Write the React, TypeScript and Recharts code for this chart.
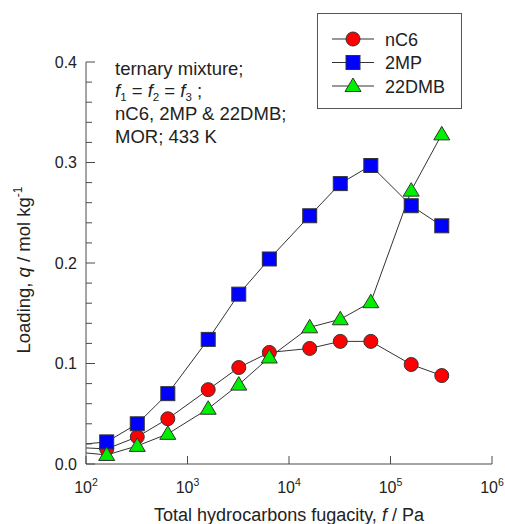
import React from 'react'
import { LineChart, Line, XAxis, YAxis, Legend } from 'recharts'

// total hydrocarbons fugacity, Pa (first entry is the line lead-in at the axis, no marker)
const fugacity = [100, 160, 320, 640, 1600, 3200, 6400, 16000, 32000, 64000, 160000, 320000]
const nC6 = [0.016, 0.015, 0.027, 0.045, 0.074, 0.096, 0.111, 0.115, 0.122, 0.122, 0.099, 0.088]
const mp2 = [0.020, 0.022, 0.040, 0.070, 0.124, 0.169, 0.204, 0.247, 0.279, 0.297, 0.257, 0.237]
const dmb22 = [0.011, 0.009, 0.018, 0.030, 0.055, 0.079, 0.106, 0.136, 0.144, 0.161, 0.272, 0.328]

const xTicks = [100, 1000, 10000, 100000, 1000000]
const xExp = ['2', '3', '4', '5', '6']
const yTicks = [0, 0.02, 0.04, 0.06, 0.08, 0.1, 0.12, 0.14, 0.16, 0.18, 0.2, 0.22, 0.24, 0.26, 0.28, 0.3, 0.32, 0.34, 0.36, 0.38, 0.4]

const data = fugacity.map((f, i) => ({ f, nC6: nC6[i], mp2: mp2[i], dmb22: dmb22[i] }))

const FONT = '"Liberation Sans", Arial, Helvetica, sans-serif'
const AXIS = '#4a4a4a'
const EDGE = '#333'

const XTick = (props: any) => {
  const { x, y, payload } = props
  const i = xTicks.indexOf(payload.value)
  return (
    <g>
      <line x1={x} x2={x} y1={y} y2={y - 8} stroke={AXIS} />
      <text x={x} y={y + 29} textAnchor="middle" fontSize={16} fill="#222" fontFamily={FONT}>
        10<tspan dy={-7} fontSize={10.5}>{xExp[i]}</tspan>
      </text>
    </g>
  )
}

const YTick = (props: any) => {
  const { x, y, payload } = props
  const v = payload.value
  const major = Math.abs(v * 10 - Math.round(v * 10)) < 1e-6
  return (
    <g>
      <line x1={x} x2={x + (major ? 9 : 6)} y1={y} y2={y} stroke={AXIS} />
      {major && (
        <text x={x - 9} y={y + 5.5} textAnchor="end" fontSize={16} fill="#222" fontFamily={FONT}>
          {v.toFixed(1)}
        </text>
      )}
    </g>
  )
}

const marker = (kind: string, color: string, cx: number, cy: number, key?: any) => {
  if (kind === 'circle') return <circle key={key} cx={cx} cy={cy} r={7} fill={color} stroke={EDGE} />
  if (kind === 'square') return <rect key={key} x={cx - 7} y={cy - 7} width={14} height={14} fill={color} stroke={EDGE} />
  return (
    <polygon
      key={key}
      points={`${cx},${cy - 8} ${cx - 8},${cy + 5.5} ${cx + 8},${cy + 5.5}`}
      fill={color}
      stroke={EDGE}
    />
  )
}

const dotFor = (kind: string, color: string) => (props: any) => {
  const { cx, cy, index } = props
  if (index === 0 || cx == null) return <g key={`${kind}-${index}`} />
  return marker(kind, color, cx, cy, `${kind}-${index}`)
}

const series = [
  { key: 'nC6', name: 'nC6', kind: 'circle', color: '#ff0000' },
  { key: 'mp2', name: '2MP', kind: 'square', color: '#0000ff' },
  { key: 'dmb22', name: '22DMB', kind: 'triangle', color: '#00ee00' },
]

const LegendBox = () => (
  <svg width={145} height={96} style={{ display: 'block' }}>
    <rect x={0.5} y={0.5} width={144} height={95} fill="#fff" stroke="#555" />
    {series.map((s, i) => {
      const cy = 26 + i * 23.5
      return (
        <g key={s.key}>
          <line x1={15} x2={57} y1={cy} y2={cy} stroke={EDGE} />
          {marker(s.kind, s.color, 36, cy)}
          <text x={68} y={cy + 6.5} fontSize={18} fill="#222" fontFamily={FONT}>{s.name}</text>
        </g>
      )
    })}
  </svg>
)

const sub = { fontSize: 11.5 }

export default function App() {
  return (
    <div style={{ position: 'absolute', left: 0, top: 0, width: 505, height: 524, background: '#fff', fontFamily: FONT }}>
      <LineChart width={505} height={524} data={data} margin={{ top: 62, right: 13, bottom: 0, left: 0 }}>
        <XAxis
          dataKey="f"
          type="number"
          scale="log"
          domain={[100, 1000000]}
          allowDataOverflow
          ticks={xTicks}
          interval={0}
          height={60}
          tickSize={0}
          tickMargin={0}
          tick={XTick}
          axisLine={{ stroke: AXIS }}
          label={{
            content: (p: any) => (
              <text x={p.viewBox.x + p.viewBox.width / 2} y={521} textAnchor="middle" fontSize={18} fill="#222" fontFamily={FONT}>
                Total hydrocarbons fugacity, <tspan fontStyle="italic">f</tspan> / Pa
              </text>
            ),
          }}
        />
        <YAxis
          type="number"
          domain={[0, 0.4]}
          ticks={yTicks}
          interval={0}
          width={86}
          tickSize={0}
          tickMargin={0}
          tick={YTick}
          axisLine={{ stroke: AXIS }}
          label={{
            content: () => (
              <text x={30} y={270} transform="rotate(-90 30 270)" textAnchor="middle" fontSize={18.5} fill="#222" fontFamily={FONT}>
                Loading, <tspan fontStyle="italic">q</tspan> / mol kg<tspan dy={-8} fontSize={12}>-1</tspan>
              </text>
            ),
          }}
        />
        {series.map((s) => (
          <Line
            key={s.key}
            dataKey={s.key}
            name={s.name}
            stroke={EDGE}
            strokeWidth={1}
            dot={dotFor(s.kind, s.color)}
            activeDot={false}
            isAnimationActive={false}
          />
        ))}
        <Legend
          layout="horizontal"
          verticalAlign="middle"
          align="center"
          wrapperStyle={{ position: 'absolute', left: 317, top: 13, width: 145, height: 96 }}
          content={() => <LegendBox />}
        />
      </LineChart>
      <svg width={505} height={524} style={{ position: 'absolute', left: 0, top: 0, pointerEvents: 'none' }}>
        <g fontSize={18.5} fill="#222" fontFamily={FONT}>
          <text x={115} y={75}>ternary mixture;</text>
          <text x={115} y={97}>
            <tspan fontStyle="italic">f</tspan><tspan dy={4} style={sub}>1</tspan>
            <tspan dy={-4}> = </tspan><tspan fontStyle="italic">f</tspan><tspan dy={4} style={sub}>2</tspan>
            <tspan dy={-4}> = </tspan><tspan fontStyle="italic">f</tspan><tspan dy={4} style={sub}>3</tspan>
            <tspan dy={-4}> ;</tspan>
          </text>
          <text x={115} y={120}>nC6, 2MP &amp; 22DMB;</text>
          <text x={115} y={143}>MOR; 433 K</text>
        </g>
      </svg>
    </div>
  )
}
